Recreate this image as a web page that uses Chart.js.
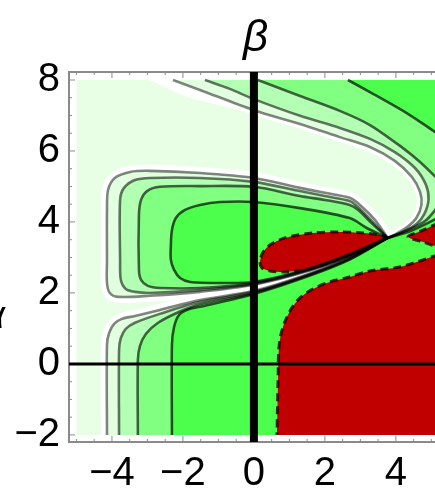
<!DOCTYPE html>
<html><head><meta charset="utf-8">
<script src="https://cdn.jsdelivr.net/npm/chart.js@4.4.1/dist/chart.umd.min.js"></script>
<style>html,body{margin:0;padding:0;background:#fff;overflow:hidden;width:435px;height:490px}canvas{display:block}</style>
</head><body>
<canvas id="c" width="450" height="490"></canvas>
<script>
// ---- tick labels ----
const xTickValues = [-4, -2, 0, 2, 4];
const yTickValues = [-2, 0, 2, 4, 6, 8];

// ---- plotted domain (alpha on y, beta on x) ----
const plotDomain = [[-5, -2], [5.2, -2], [5.2, 8], [-5, 8]];

// ---- white halo near the top ----
const whiteWedgeTop = [[-2.93, 8], [-2.28, 8], [-1.52, 7.72], [0, 7.15], [0.5, 7.0], [-0.03, 7.08], [-1.04, 7.30], [-2.0, 7.56], [-2.45, 7.78]];

// ---- upper-left lobe contours (levels 1..4) ----
const ulLevel1 = [[3.77,3.55],[3.41,4.06],[2.99,4.48],[2.70,4.68],[2.00,4.82],[1.30,4.96],[0,5.24],[-1.52,5.38],[-2.93,5.44],[-3.49,5.41],[-3.92,5.24],[-4.11,4.90],[-4.14,4.34],[-4.14,2.93],[-4.14,2.28],[-4.06,2.00],[-3.83,1.89],[-2.93,1.92],[-1.52,2.03],[0,2.23],[1.58,2.63],[2.70,3.03],[3.77,3.55]];
const ulLevel2 = [[3.77,3.55],[3.32,4.03],[2.93,4.42],[2.70,4.59],[2.00,4.73],[1.30,4.87],[0,5.13],[-1.52,5.24],[-2.93,5.24],[-3.35,5.18],[-3.66,4.96],[-3.77,4.62],[-3.77,2.93],[-3.75,2.37],[-3.61,2.11],[-3.35,2.03],[-2.93,2.00],[-1.52,2.08],[0,2.25],[1.58,2.65],[2.70,3.05],[3.77,3.55]];
const ulLevel3 = [[3.77,3.55],[3.30,3.98],[2.95,4.33],[2.70,4.48],[2.00,4.62],[1.30,4.73],[0,4.99],[-1.52,5.01],[-2.65,4.99],[-3.01,4.87],[-3.18,4.62],[-3.24,4.20],[-3.24,2.65],[-3.18,2.37],[-2.99,2.20],[-2.65,2.14],[-1.52,2.14],[0,2.28],[1.58,2.67],[2.70,3.07],[3.77,3.55]];
const ulLevel4 = [[3.77,3.55],[3.18,3.83],[2.70,4.11],[1.30,4.39],[0,4.56],[-0.96,4.56],[-1.52,4.48],[-1.94,4.34],[-2.20,4.11],[-2.31,3.77],[-2.34,3.35],[-2.34,2.93],[-2.25,2.65],[-2.08,2.42],[-1.80,2.31],[-0.96,2.28],[0,2.31],[1.58,2.69],[2.70,3.09],[3.77,3.55]];

// ---- upper-right fan contours ----
const urLevel1 = [[-2.28,8],[-1.52,7.72],[0,7.15],[1.30,6.76],[2.42,6.39],[3.27,6.11],[3.97,5.72],[4.45,5.27],[4.68,4.85],[4.72,4.48],[4.58,4.12],[4.30,3.84],[4.0,3.66],[3.77,3.55]];
const urLevel2 = [[-1.38,8],[-0.68,7.75],[0,7.46],[1.30,6.99],[2.42,6.65],[3.27,6.34],[3.97,5.97],[4.54,5.52],[4.85,5.04],[4.92,4.62],[4.80,4.22],[4.58,3.94],[4.25,3.74],[3.77,3.55]];
const urLevel3 = [[0.11,8],[1.30,7.55],[2.42,7.13],[3.27,6.73],[4.20,6.08],[4.68,5.69],[5.2,5.19]];
const urLevel4 = [[2.65,8],[3.27,7.66],[4.17,7.15],[4.82,6.73],[5.2,6.47]];
const rightRay3 = [[3.77,3.55],[4.4,3.80],[4.85,4.05],[5.2,4.45]];
const rightRay4 = [[3.77,3.55],[4.4,3.74],[5.2,4.12]];

// ---- lower region contours ----
const loLevel1 = [[-4.14,-2],[-4.14,0.54],[-4.08,0.87],[-3.94,1.13],[-3.72,1.27],[-3.35,1.35],[-2.65,1.52],[-1.52,1.80],[0,2.06],[1.58,2.55],[2.70,3.00],[3.77,3.55]];
const loLevel2 = [[-3.80,-2],[-3.80,0.39],[-3.75,0.73],[-3.61,0.99],[-3.35,1.16],[-2.65,1.41],[-1.52,1.75],[0,2.03],[1.58,2.53],[2.70,2.98],[3.77,3.55]];
const loLevel3 = [[-3.27,-2],[-3.27,0.11],[-3.21,0.51],[-3.04,0.85],[-2.70,1.16],[-2.10,1.47],[-1.52,1.68],[0,2.0],[1.58,2.51],[2.70,2.96],[3.77,3.55]];
const loLevel4 = [[-2.31,-2],[-2.31,0.54],[-2.25,1.04],[-2.11,1.38],[-1.86,1.53],[-1.52,1.61],[0,1.97],[1.58,2.49],[2.70,2.94],[3.77,3.55]];

// ---- red (negative) regions ----
const redLobe = [[3.75,3.55],[2.70,3.08],[1.58,2.68],[0.87,2.59],[0.45,2.62],[0.23,2.70],[0.17,2.87],[0.25,3.13],[0.45,3.35],[0.87,3.55],[1.66,3.69],[2.42,3.72],[3.07,3.69],[3.55,3.63],[3.75,3.55]];
const redWedge = [[5.2,3.97],[4.75,3.76],[4.34,3.58],[4.75,3.44],[5.2,3.28]];
const redMain = [[5.2,3.07],[5.10,3.04],[4.11,2.73],[3.27,2.62],[2.70,2.45],[2.14,2.31],[1.66,2.11],[1.30,1.86],[1.07,1.58],[0.87,1.18],[0.76,0.82],[0.70,0.39],[0.68,-0.45],[0.65,-2.0]];

// ---- reference lines ----
const zeroLines = { beta: 0, alpha: 0 };

// ---- styles ----
const baseColor = 'rgb(232,255,230)';
const bandColors = ['rgb(226,255,224)', 'rgb(179,255,179)', 'rgb(128,255,128)', 'rgb(77,255,77)'];
const lineColors = ['rgba(0,0,0,0.48)', 'rgba(0,0,0,0.55)', 'rgba(0,0,0,0.62)', 'rgba(0,0,0,0.68)'];
const redColor = 'rgb(192,0,0)';
const dashColor = 'rgba(35,0,0,0.8)';
const FONT = '"Liberation Sans", Arial, Helvetica, sans-serif';
const SMOOTH = 0.3;

const toPts = arr => arr.map(([x, y]) => ({ x, y }));
const layers = [];
function fillLayer(points, color, tension) {
  layers.push({ type: 'line', data: toPts(points), fill: 'shape', backgroundColor: color,
    borderWidth: 0, pointRadius: 0, pointHoverRadius: 0, tension: tension });
}
function lineLayer(points, color, width, dash) {
  layers.push({ type: 'line', data: toPts(points), fill: false, borderColor: color, borderWidth: width,
    borderDash: dash || [], pointRadius: 0, pointHoverRadius: 0, tension: SMOOTH,
    borderJoinStyle: 'round', borderCapStyle: 'butt' });
}
const twice = p => [p, p];   // sharp corner where a region meets the frame

const ul = [ulLevel1, ulLevel2, ulLevel3, ulLevel4];
const ur = [urLevel1, urLevel2, urLevel3, urLevel4];
const lo = [loLevel1, loLevel2, loLevel3, loLevel4];
const topRight = plotDomain[2], bottomRight = plotDomain[1];

fillLayer(plotDomain, baseColor, 0);
fillLayer(whiteWedgeTop, '#ffffff', SMOOTH);
lineLayer(ulLevel1, '#ffffff', 12);
lineLayer(loLevel1, '#ffffff', 12);
lineLayer(urLevel1, '#ffffff', 9);

for (let k = 0; k < 4; k++) {
  fillLayer(ul[k], bandColors[k], SMOOTH);
  let urPoly;
  if (k < 2) {
    urPoly = [...ur[k], ...rightRay3.slice(0, -1), ...twice(rightRay3[rightRay3.length - 1]), ...twice(topRight)];
  } else {
    urPoly = [...ur[k].slice(0, -1), ...twice(ur[k][ur[k].length - 1]), ...twice(topRight)];
  }
  fillLayer(urPoly, bandColors[k], SMOOTH);
  const ray = k < 3 ? rightRay3 : rightRay4;
  const loPoly = [...lo[k], ...ray.slice(0, -1), ...twice(ray[ray.length - 1]), ...twice(bottomRight)];
  fillLayer(loPoly, bandColors[k], SMOOTH);
}

fillLayer(redLobe, redColor, SMOOTH);
fillLayer(redWedge, redColor, SMOOTH);
fillLayer([...redMain.slice(0, -1), ...twice(redMain[redMain.length - 1]), ...twice(bottomRight)], redColor, SMOOTH);
lineLayer(redLobe, dashColor, 3, [8, 5]);
lineLayer(redWedge, dashColor, 3, [8, 5]);
lineLayer(redMain, dashColor, 3, [8, 5]);

for (let k = 0; k < 4; k++) {
  lineLayer(ul[k], lineColors[k], 2.6);
  lineLayer(ur[k], lineColors[k], 2.6);
  lineLayer(lo[k], lineColors[k], 2.6);
}
lineLayer(rightRay3, lineColors[2], 2.6);
lineLayer(rightRay4, lineColors[3], 2.6);

layers.forEach((d, i) => { d.order = layers.length - i; });

const decor = {
  id: 'decor',
  afterDatasetsDraw(chart) {
    const ctx = chart.ctx, a = chart.chartArea, xs = chart.scales.x, ys = chart.scales.y;
    ctx.save();
    ctx.strokeStyle = '#8a8a8a'; ctx.lineWidth = 2;
    ctx.strokeRect(a.left, a.top, a.right - a.left, a.bottom - a.top);
    ctx.lineWidth = 1;
    for (let i = -10; i <= 10; i++) {
      const v = i / 2, len = xTickValues.includes(v) ? 6 : 3;
      const px = xs.getPixelForValue(v);
      if (px > a.left && px < a.right) {
        ctx.beginPath(); ctx.moveTo(px, a.bottom); ctx.lineTo(px, a.bottom - len);
        ctx.moveTo(px, a.top); ctx.lineTo(px, a.top + len); ctx.stroke();
      }
    }
    for (let i = -4; i <= 16; i++) {
      const v = i / 2, len = yTickValues.includes(v) ? 6 : 3;
      const py = ys.getPixelForValue(v);
      if (py > a.top && py < a.bottom) {
        ctx.beginPath(); ctx.moveTo(a.left, py); ctx.lineTo(a.left + len, py); ctx.stroke();
      }
    }
    ctx.strokeStyle = '#000';
    ctx.lineWidth = 3;
    const y0 = ys.getPixelForValue(zeroLines.alpha);
    ctx.beginPath(); ctx.moveTo(a.left, y0); ctx.lineTo(a.right, y0); ctx.stroke();
    ctx.lineWidth = 8;
    const x0 = xs.getPixelForValue(zeroLines.beta);
    ctx.beginPath(); ctx.moveTo(x0, a.top); ctx.lineTo(x0, a.bottom); ctx.stroke();
    ctx.fillStyle = '#000';
    ctx.font = 'italic 38px ' + FONT;
    ctx.textAlign = 'right'; ctx.textBaseline = 'alphabetic';
    ctx.fillText('α', 5, 328);
    ctx.restore();
  }
};

const fmt = v => (v < 0 ? '\u2212' + Math.abs(v) : String(v));

new Chart(document.getElementById('c'), {
  type: 'scatter',
  data: { datasets: layers },
  plugins: [decor],
  options: {
    responsive: false, animation: false, devicePixelRatio: 1, events: [],
    layout: { padding: { left: 0, right: 8, top: 0, bottom: 0 } },
    plugins: { legend: { display: false }, tooltip: { enabled: false }, filler: { propagate: false } },
    scales: {
      x: {
        type: 'linear', position: 'bottom', min: -5.21, max: 5.3,
        afterBuildTicks: s => { s.ticks = xTickValues.map(v => ({ value: v })); },
        afterFit: s => { s.height = 48; },
        grid: { display: false, drawTicks: false }, border: { display: false },
        ticks: { font: { family: FONT, size: 40 }, color: '#000', padding: 8, maxRotation: 0, autoSkip: false, callback: v => fmt(v) }
      },
      xTop: {
        type: 'linear', position: 'top', axis: 'x', min: -5.21, max: 5.3,
        afterFit: s => { s.height = 72; },
        grid: { display: false, drawTicks: false }, border: { display: false },
        ticks: { display: false },
        title: { display: true, text: 'β', color: '#000', font: { family: FONT, size: 44, style: 'italic' }, padding: { top: 12, bottom: 0 } }
      },
      y: {
        type: 'linear', position: 'left', min: -2.2, max: 8.225,
        afterBuildTicks: s => { s.ticks = yTickValues.map(v => ({ value: v })); },
        afterFit: s => { s.width = 69; },
        grid: { display: false, drawTicks: false }, border: { display: false },
        ticks: { font: { family: FONT, size: 40 }, color: '#000', padding: 9, autoSkip: false, callback: v => fmt(v) }
      }
    }
  }
});
</script>
</body></html>
